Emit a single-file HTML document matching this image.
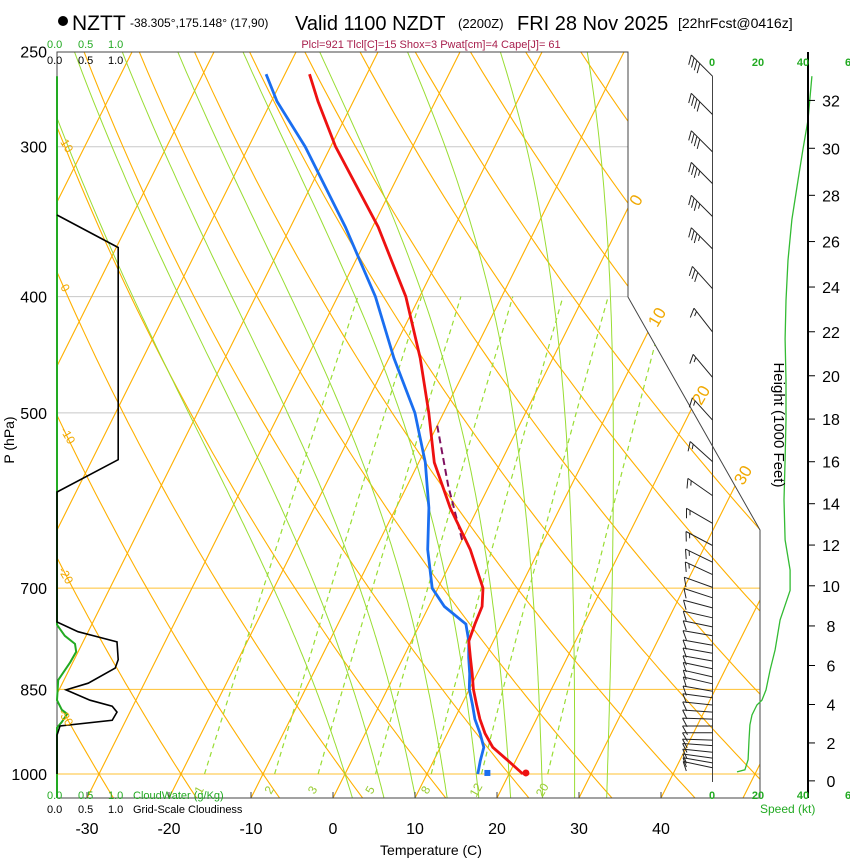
<!DOCTYPE html>
<html><head><meta charset="utf-8">
<style>
html,body{margin:0;padding:0;background:#fff;}
svg{display:block;font-family:"Liberation Sans",sans-serif;}
</style></head>
<body>
<svg id="chart" width="850" height="860" viewBox="0 0 850 860" xmlns="http://www.w3.org/2000/svg">
<defs>
<clipPath id="plotclip"><polygon points="57,52 628,52 628,297 760,530 760,798 57,798"/></clipPath>
</defs>
<g id="bg" clip-path="url(#plotclip)"></g>
<g id="fg"></g>
<circle cx="63" cy="21" r="5" fill="#000"/>
<text x="72" y="30" font-size="21">NZTT</text>
<text x="130" y="27" font-size="12">-38.305°,175.148° (17,90)</text>
<text x="295" y="30" font-size="20">Valid 1100 NZDT</text>
<text x="458" y="28" font-size="13">(2200Z)</text>
<text x="517" y="30" font-size="20">FRI 28 Nov 2025</text>
<text x="678" y="28" font-size="14">[22hrFcst@0416z]</text>
<text x="431" y="48" font-size="11" fill="#a8204e" text-anchor="middle">Plcl=921 Tlcl[C]=15 Shox=3 Pwat[cm]=4 Cape[J]= 61</text>
<g font-size="11">
<text x="47" y="48" fill="#22aa22">0.0</text><text x="78" y="48" fill="#22aa22">0.5</text><text x="108" y="48" fill="#22aa22">1.0</text>
<text x="47" y="64">0.0</text><text x="78" y="64">0.5</text><text x="108" y="64">1.0</text>
</g>
<g font-size="11">
<text x="47" y="799" fill="#22aa22">0.0</text><text x="78" y="799" fill="#22aa22">0.5</text><text x="108" y="799" fill="#22aa22">1.0</text><text x="133" y="799" fill="#22aa22">CloudWater (g/Kg)</text>
<text x="47" y="813">0.0</text><text x="78" y="813">0.5</text><text x="108" y="813">1.0</text><text x="133" y="813">Grid-Scale Cloudiness</text>
</g>
<text x="431" y="855" font-size="14" text-anchor="middle">Temperature (C)</text>
<text transform="translate(14,440) rotate(-90)" font-size="14" text-anchor="middle">P (hPa)</text>
<text transform="translate(774,425) rotate(90)" font-size="15" text-anchor="middle">Height (1000 Feet)</text>
<text x="760" y="813" font-size="12" fill="#22aa22">Speed (kt)</text>
<g font-size="11" font-weight="bold" fill="#22aa22" text-anchor="middle">
<text x="712" y="66">0</text><text x="758" y="66">20</text><text x="803" y="66">40</text><text x="848" y="66">6</text>
<text x="712" y="799">0</text><text x="758" y="799">20</text><text x="803" y="799">40</text><text x="848" y="799">6</text>
</g>
<g font-size="17" fill="#f0a800" text-anchor="middle">
<text transform="translate(641,203) rotate(-60)">0</text>
<text transform="translate(662,320) rotate(-60)">10</text>
<text transform="translate(706,398) rotate(-60)">20</text>
<text transform="translate(748,478) rotate(-60)">30</text>
</g>
<g font-size="12" fill="#f0a800">
<text transform="translate(60,142) rotate(60)">10</text>
<text transform="translate(60,287) rotate(60)">0</text>
<text transform="translate(60,430) rotate(60)">-10</text>
<text transform="translate(58,570) rotate(60)">-20</text>
<text transform="translate(58,712) rotate(60)">-30</text>
</g>
<script>
const isoTemps = [-130,-120,-110,-100,-90,-80,-70,-60,-50,-40,-30,-20,-10,0,10,20,30,40,50];
const dryThetas = [-40,-30,-20,-10,0,10,20,30,40,50,60,70,80,90,100,110,120,130,140,150,160,170,180];
const moistThetaW = [0,4,8,12,16,20,24,28,32];
const mixRatios = [1,2,3,5,8,12,20];
const pressLabels = [250,300,400,500,700,850,1000];
const grayLevels = [300,400,500];
const orangeLevels = [700,850,1000];
const tempTicks = [-30,-20,-10,0,10,20,30,40];
const heightTicks = [0,2,4,6,8,10,12,14,16,18,20,22,24,26,28,30,32];
const profP = [1000,975,950,925,900,875,850,825,800,775,750,725,700,650,600,550,500,450,400,350,300,275,261];
const tempC = [21.7,19.1,16.4,14.6,13.1,11.8,10.5,9.4,8.2,7.0,6.7,6.5,5.5,1.6,-3.4,-8.1,-11.8,-16.2,-21.7,-29.3,-39.4,-44.3,-47.0];
const dewC = [16.2,15.7,15.3,14.0,12.5,11.3,10.0,9.1,8.0,7.0,5.6,1.9,-0.7,-3.6,-6.0,-9.2,-13.5,-19.4,-25.4,-33.3,-43.1,-49.3,-52.3];
const sfcTemp = 22.0;
const sfcDew = 17.3;
const parcelP = [638,575,510];
const parcelT = [0,-5,-10.2];
const cloudFracP = [342,364,547,582,747,761,776,803,816,840,851,868,878,888,902,912,928,1000];
const cloudFrac = [0,1.02,1.02,0,0,0.35,1.0,1.02,0.97,0.52,0.15,0.55,0.92,1.0,0.92,0.05,0,0];
const cloudWaterP = [262,751,767,779,791,807,835,868,884,891,905,915,1047];
const cloudWater = [0,0,0.13,0.3,0.32,0.22,0.02,0,0.08,0.17,0.08,0,0];
const speedP = [996,992,973,937,910,893,876,868,851,819,788,744,703,676,638,591,547,507,470,434,403,373,345,320,302,285,262];
const speedKt = [11,14.5,15.9,16.3,16.7,17.6,19.8,22,23.8,25.6,27.8,30,34.4,34.4,32.2,31.7,32.2,32.6,32.6,32.2,32.6,33.5,35.2,37.9,40,42.3,44];
const barbP = [262,282,303,322,343,365,394,428,467,507,549,586,618,645,666,682,699,713,727,741,754,767,781,793,805,817,830,841,853,864,876,888,900,912,924,937,947,959,970,979,988];
const barbDir = [315,315,315,315,315,315,318,322,320,318,312,305,300,298,296,295,290,288,285,283,282,280,280,280,280,282,283,283,280,278,276,274,272,270,270,272,274,276,278,280,282];
const barbSpd = [40,40,40,35,35,35,30,15,15,15,15,15,15,15,15,15,10,10,10,10,10,10,10,10,10,10,10,10,10,10,10,10,10,10,10,10,10,10,10,10,10];

const NS = 'http://www.w3.org/2000/svg';
function yP(p){ return 774 - 521*Math.log(1000/p); }
function xT(T,y){ return 333 + 8.2*T + 0.5*(798 - y); }
function xC(v){ return 57 + 60*v; }
function xS(s){ return 712 + 2.27*s; }
function pFromKft(h){ return 1013.25*Math.pow(1 - 6.5e-3*h*304.8/288.15, 5.2559); }
const bg = document.getElementById('bg');
const fg = document.getElementById('fg');
function mk(tag, attrs, parent){
  const e = document.createElementNS(NS, tag);
  for (const k in attrs) e.setAttribute(k, attrs[k]);
  parent.appendChild(e);
  return e;
}
function pathFrom(pts){ return pts.map((q,i)=>(i?'L':'M')+q[0].toFixed(1)+','+q[1].toFixed(1)).join(''); }

grayLevels.forEach(p=>{
  const l = mk('line',{x1:57,x2:760,y1:yP(p),y2:yP(p),stroke:'#c8c8c8','stroke-width':1},bg);
  
  
});
orangeLevels.forEach(p=>{
  const l = mk('line',{x1:57,x2:760,y1:yP(p),y2:yP(p),stroke:'#ffc030','stroke-width':1},bg);
  
  
});
isoTemps.forEach(T=>{
  const l = mk('line',{x1:xT(T,798),y1:798,x2:xT(T,52),y2:52,stroke:'#ffb000','stroke-width':1.1},bg);
  
  
});
dryThetas.forEach(th=>{
  const pts=[];
  for(let p=1050;p>=240;p-=10){ const T=(th+273.15)*Math.pow(p/1000,0.2857)-273.15; const y=yP(p); pts.push([xT(T,y),y]); }
  const e = mk('path',{d:pathFrom(pts),fill:'none',stroke:'#ffb000','stroke-width':1.1},bg);
  
  
});
function esat(Tc){ return 6.112*Math.exp(17.67*Tc/(Tc+243.5)); }
function rsat(Tc,p){ const e=esat(Tc); return 0.622*e/(p-e); }
moistThetaW.forEach(tw=>{
  const ptsUp=[], ptsDn=[];
  let T=tw+273.15;
  for(let p=1000;p>=240;p-=5){
    const y=yP(p); ptsUp.push([xT(T-273.15,y),y]);
    const rs=rsat(T-273.15,p), L=2.5e6, Rd=287, cp=1005;
    const dTdp=(Rd*T+L*rs)/(p*(cp+L*L*rs*0.622/(Rd*T*T)));
    T-=dTdp*5;
  }
  T=tw+273.15;
  for(let p=1000;p<=1050;p+=5){
    const y=yP(p); ptsDn.push([xT(T-273.15,y),y]);
    const rs=rsat(T-273.15,p), L=2.5e6, Rd=287, cp=1005;
    const dTdp=(Rd*T+L*rs)/(p*(cp+L*L*rs*0.622/(Rd*T*T)));
    T+=dTdp*5;
  }
  const pts=ptsDn.reverse().concat(ptsUp);
  const e = mk('path',{d:pathFrom(pts),fill:'none',stroke:'#99dd33','stroke-width':1},bg);
  
  
});
mixRatios.forEach(w=>{
  const pts=[];
  for(let p=1000;p>=400;p-=10){
    const e=w*p/(622+w); const a=Math.log(e/6.112); const Td=243.5*a/(17.67-a);
    const y=yP(p); pts.push([xT(Td,y),y]);
  }
  const e = mk('path',{d:pathFrom(pts),fill:'none',stroke:'#99dd33','stroke-width':1.2,'stroke-dasharray':'5,4'},bg);
  
  
  const e0=w*1000/(622+w), a0=Math.log(e0/6.112), Td0=243.5*a0/(17.67-a0);
  const tx = mk('text',{transform:'translate('+(xT(Td0,774)-2)+',792) rotate(-60)','font-size':12,fill:'#99cc33','text-anchor':'middle'},fg);
  tx.textContent = String(w);
  
  
});

const frame = mk('polyline',{points:'57,798 57,52 628,52 628,297 760,530 760,798',fill:'none',stroke:'#444','stroke-width':1},fg);


const bottom = mk('line',{x1:57,x2:760,y1:798,y2:798,stroke:'#444','stroke-width':1},fg);


tempTicks.forEach(T=>{
  const x=333+8.2*T;
  const t = mk('line',{x1:x,x2:x,y1:798,y2:792,stroke:'#444'},fg);
  
  
  const tx = mk('text',{x:x,y:834,'font-size':16,'text-anchor':'middle'},fg);
  tx.textContent = String(T);
  
  
});
pressLabels.forEach(p=>{
  const tx = mk('text',{x:47,y:yP(p)+6,'font-size':16,'text-anchor':'end'},fg);
  tx.textContent = String(p);
  
  
});

function cloudPath(ps,vs){ return pathFrom(ps.map((p,i)=>[xC(vs[i]),yP(p)])); }
const cw = mk('path',{d:cloudPath(cloudWaterP,cloudWater),fill:'none',stroke:'#22aa22','stroke-width':2},fg);


const cf = mk('path',{d:cloudPath(cloudFracP,cloudFrac),fill:'none',stroke:'#000','stroke-width':1.6},fg);



function profPath(ps,ts){ return pathFrom(ps.map((p,i)=>{const y=yP(p);return [xT(ts[i],y),y];})); }
const par = mk('path',{d:profPath(parcelP,parcelT),fill:'none',stroke:'#801060','stroke-width':2,'stroke-dasharray':'7,4'},fg);


const dl = mk('path',{d:profPath(profP,dewC),fill:'none',stroke:'#1a6ef0','stroke-width':2.8},fg);


const tl = mk('path',{d:profPath(profP,tempC),fill:'none',stroke:'#ee1111','stroke-width':2.8},fg);


const y0=yP(998);
const dd = mk('rect',{x:xT(sfcDew,y0)-3,y:y0-3,width:6,height:6,fill:'#1a6ef0'},fg);


const td = mk('circle',{cx:xT(sfcTemp,y0),cy:y0,r:3.5,fill:'#ee1111'},fg);



const base = mk('line',{x1:712.5,x2:712.5,y1:yP(262),y2:782,stroke:'#444','stroke-width':1},fg);


barbP.forEach((p,i)=>{
  const y=yP(p), x=712.5, d=barbDir[i]*Math.PI/180, L=30;
  const ux=Math.sin(d), uy=-Math.cos(d);
  const tx=x+ux*L, ty=y+uy*L;
  const ca=Math.cos(-2.0944), sa=Math.sin(-2.0944);
  const fx=ux*ca-uy*sa, fy=ux*sa+uy*ca;
  let s=barbSpd[i], dpath='M'+x+','+y.toFixed(1)+'L'+tx.toFixed(1)+','+ty.toFixed(1);
  let k=0;
  while(s>=10){ const bx=tx-ux*k*4, by=ty-uy*k*4; dpath+='M'+bx.toFixed(1)+','+by.toFixed(1)+'l'+(fx*10).toFixed(1)+','+(fy*10).toFixed(1); s-=10; k++; }
  if(s>=5){ const bx=tx-ux*(k+(k?0:1))*4, by=ty-uy*(k+(k?0:1))*4; dpath+='M'+bx.toFixed(1)+','+by.toFixed(1)+'l'+(fx*5).toFixed(1)+','+(fy*5).toFixed(1); }
  const b = mk('path',{d:dpath,fill:'none',stroke:'#222','stroke-width':1},fg);
  
  
});

const sp = mk('path',{d:pathFrom(speedP.map((p,i)=>[xS(speedKt[i]),yP(p)])),fill:'none',stroke:'#33bb33','stroke-width':1.3},fg);



const ha = mk('line',{x1:808,x2:808,y1:52,y2:798,stroke:'#000','stroke-width':2},fg);


heightTicks.forEach(h=>{
  const y=yP(pFromKft(h));
  const t = mk('line',{x1:808,x2:815,y1:y,y2:y,stroke:'#000'},fg);
  
  
  const tx = mk('text',{x:831,y:y+6,'font-size':16,'text-anchor':'middle'},fg);
  tx.textContent = String(h);
  
  
});
</script>
</svg>
</body></html>
